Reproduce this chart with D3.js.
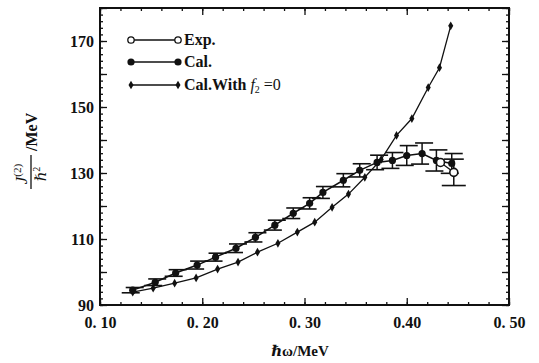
<!DOCTYPE html>
<html><head><meta charset="utf-8">
<script src="https://cdn.jsdelivr.net/npm/d3@7"></script>
<style>body{margin:0;background:#fff}svg{display:block}text{font-family:"Liberation Serif","DejaVu Serif",serif;fill:#111}</style>
</head><body><svg id="c" width="539" height="363"></svg>
<script>
// Data
const xTicks = [0.10, 0.20, 0.30, 0.40, 0.50];
const xTickLabels = ["0. 10", "0. 20", "0. 30", "0.40", "0. 50"];
const yTicks = [90, 110, 130, 150, 170];
const calX = [0.132,0.154,0.174,0.195,0.213,0.233,0.252,0.271,0.289,0.305,0.318,0.338,0.354,0.371,0.386,0.400,0.415,0.429,0.444];
const calY = [94.5,96.9,99.7,102.1,104.5,107.2,110.5,114.2,117.8,120.8,124.1,127.8,130.8,133.2,133.8,135.3,135.9,133.8,132.9];
const calErr = [0.8,1.0,1.0,1.2,1.2,1.3,1.4,1.5,1.6,1.7,1.8,2.0,2.0,2.2,2.4,3.0,3.2,3.2,3.0];
const f0X = [0.132,0.152,0.173,0.194,0.215,0.235,0.254,0.274,0.293,0.310,0.327,0.343,0.359,0.375,0.390,0.405,0.421,0.432,0.443];
const f0Y = [93.9,95.1,96.6,98.2,100.9,103.0,106.0,108.7,112.1,115.1,119.6,123.6,128.7,134.1,141.4,146.5,155.9,161.9,174.6];
const expX = [0.433,0.446];
const expY = [133.2,130.2];
const expErr = [0,4.0];
const legendLabels = ["Exp.", "Cal.", "Cal.With "];

const svg = d3.select("#c");
const L=100,R=509,T=8,B=305;
const x = d3.scaleLinear().domain([0.10,0.50]).range([L,R]);
const y = d3.scaleLinear().domain([90,180]).range([B,T]);

// frame
svg.append("rect").attr("x",L).attr("y",T).attr("width",R-L).attr("height",B-T)
  .attr("fill","none").attr("stroke","#111").attr("stroke-width",2);

// axes with inward ticks
const xMinor = d3.range(0.10,0.5001,0.02);
const yMinor = d3.range(90,180.01,2);
svg.append("g").attr("transform",`translate(0,${B})`)
  .call(d3.axisBottom(x).tickValues(xMinor).tickSize(-3).tickFormat(""))
  .call(g=>g.select(".domain").remove());
svg.append("g").attr("transform",`translate(0,${B})`)
  .call(d3.axisBottom(x).tickValues(xTicks).tickSize(-7).tickPadding(12).tickFormat((d,i)=>xTickLabels[i]))
  .call(g=>g.select(".domain").remove())
  .call(g=>g.selectAll("text").attr("font-size",16).attr("font-weight","bold").attr("fill","#111"));
svg.append("g").attr("transform",`translate(0,${T})`)
  .call(d3.axisTop(x).tickValues(xMinor).tickSize(-3).tickFormat(""))
  .call(g=>g.select(".domain").remove());
svg.append("g").attr("transform",`translate(0,${T})`)
  .call(d3.axisTop(x).tickValues(xTicks).tickSize(-7).tickFormat(""))
  .call(g=>g.select(".domain").remove());
svg.append("g").attr("transform",`translate(${L},0)`)
  .call(d3.axisLeft(y).tickValues(yMinor).tickSize(-3).tickFormat(""))
  .call(g=>g.select(".domain").remove());
svg.append("g").attr("transform",`translate(${L},0)`)
  .call(d3.axisLeft(y).tickValues(d3.range(90,180.01,10)).tickSize(-7).tickFormat(""))
  .call(g=>g.select(".domain").remove());
svg.append("g").attr("transform",`translate(${L},0)`)
  .call(d3.axisLeft(y).tickValues(yTicks).tickSize(0).tickPadding(6).tickFormat(d3.format("d")))
  .call(g=>g.select(".domain").remove())
  .call(g=>g.selectAll("text").attr("font-size",16).attr("font-weight","bold").attr("fill","#111"));
svg.append("g").attr("transform",`translate(${R},0)`)
  .call(d3.axisRight(y).tickValues(yMinor).tickSize(-3).tickFormat(""))
  .call(g=>g.select(".domain").remove());
svg.append("g").attr("transform",`translate(${R},0)`)
  .call(d3.axisRight(y).tickValues(d3.range(90,180.01,10)).tickSize(-7).tickFormat(""))
  .call(g=>g.select(".domain").remove());
svg.selectAll(".tick line").attr("stroke","#111").attr("stroke-width",1.3);

// lines
const line = d3.line().x(d=>x(d[0])).y(d=>y(d[1]));
const f0 = f0X.map((v,i)=>[v,f0Y[i]]);
const cal = calX.map((v,i)=>[v,calY[i]]);
const exp = expX.map((v,i)=>[v,expY[i]]);
svg.append("path").attr("d",line(f0)).attr("fill","none").attr("stroke","#111").attr("stroke-width",1.3);
svg.append("path").attr("d",line(cal)).attr("fill","none").attr("stroke","#111").attr("stroke-width",1.5);
svg.append("path").attr("d",line(exp)).attr("fill","none").attr("stroke","#111").attr("stroke-width",1.3);

// cal error caps
const capW = 9;
cal.forEach((d,i)=>{
  const e=calErr[i];
  [d[1]+e,d[1]-e].forEach((v,k)=>{
    const dx = k===0 ? 2 : -2;
    svg.append("line").attr("x1",x(d[0])-capW+dx).attr("x2",x(d[0])+capW+dx)
      .attr("y1",y(v)).attr("y2",y(v)).attr("stroke","#111").attr("stroke-width",1.6);
  });
  svg.append("line").attr("x1",x(d[0])).attr("x2",x(d[0])).attr("y1",y(d[1]+e)).attr("y2",y(d[1]-e))
    .attr("stroke","#111").attr("stroke-width",1.5);
});
// markers
svg.selectAll(".f0").data(f0).join("path").attr("class","f0")
  .attr("transform",d=>`translate(${x(d[0])},${y(d[1])})`)
  .attr("d",d3.symbol(d3.symbolDiamond,22)).attr("fill","#111");
svg.selectAll(".cal").data(cal).join("circle").attr("class","cal")
  .attr("cx",d=>x(d[0])).attr("cy",d=>y(d[1])).attr("r",3.6).attr("fill","#111");
// exp
exp.forEach((d,i)=>{
  const e=expErr[i];
  if(e>0){
    svg.append("line").attr("x1",x(d[0])).attr("x2",x(d[0])).attr("y1",y(d[1]-e)).attr("y2",y(d[1]+e)).attr("stroke","#111").attr("stroke-width",1.5);
    svg.append("line").attr("x1",x(d[0])-12).attr("x2",x(d[0])+12).attr("y1",y(d[1]-e)).attr("y2",y(d[1]-e)).attr("stroke","#111").attr("stroke-width",1.6);
    svg.append("line").attr("x1",x(d[0])-10).attr("x2",x(d[0])+10).attr("y1",y(d[1]+e)).attr("y2",y(d[1]+e)).attr("stroke","#111").attr("stroke-width",1.6);
  }
});
svg.selectAll(".exp").data(exp).join("circle").attr("class","exp")
  .attr("cx",d=>x(d[0])).attr("cy",d=>y(d[1])).attr("r",4).attr("fill","#fff").attr("stroke","#111").attr("stroke-width",1.6);

// legend
const lg = svg.append("g");
const rows=[40,62,85];
[0,1,2].forEach(i=>{
  const yy=rows[i];
  lg.append("line").attr("x1",131).attr("x2",178).attr("y1",yy).attr("y2",yy).attr("stroke","#111").attr("stroke-width",1.3);
  [131,178].forEach(xx=>{
    if(i===0) lg.append("circle").attr("cx",xx).attr("cy",yy).attr("r",3.2).attr("fill","#fff").attr("stroke","#111").attr("stroke-width",1.3);
    else if(i===1) lg.append("circle").attr("cx",xx).attr("cy",yy).attr("r",3.6).attr("fill","#111");
    else lg.append("path").attr("transform",`translate(${xx},${yy})`).attr("d",d3.symbol(d3.symbolDiamond,22)).attr("fill","#111");
  });
  const t=lg.append("text").attr("x",184).attr("y",yy+5).attr("font-size",16).attr("font-weight","bold").text(legendLabels[i]);
  if(i===2){
    t.append("tspan").attr("font-style","italic").attr("font-weight","normal").text("f");
    t.append("tspan").attr("font-size",10).attr("dy",3).attr("font-weight","normal").text("2");
    t.append("tspan").attr("dy",-3).attr("font-weight","normal").text(" =0");
  }
});

// x label
svg.append("text").attr("x",300).attr("y",356).attr("text-anchor","middle").attr("font-size",15).attr("font-weight","bold").text("ℏω/MeV");
// y label (fraction)
const yl = svg.append("g").attr("transform","translate(31,172) rotate(-90)");
yl.append("text").attr("x",-2).attr("y",-4).attr("text-anchor","middle").attr("font-size",17).attr("font-style","italic")
  .text("J").append("tspan").attr("font-size",11).attr("dy",-6).attr("font-style","normal").text("(2)");
yl.append("line").attr("x1",-17).attr("x2",17).attr("y1",0).attr("y2",0).attr("stroke","#111").attr("stroke-width",1.3);
yl.append("text").attr("x",-2).attr("y",15).attr("text-anchor","middle").attr("font-size",15)
  .text("ℏ").append("tspan").attr("font-size",10).attr("dy",-6).text("2");
yl.append("text").attr("x",21).attr("y",6).attr("font-size",16).attr("font-weight","bold").text("/MeV");
</script></body></html>
